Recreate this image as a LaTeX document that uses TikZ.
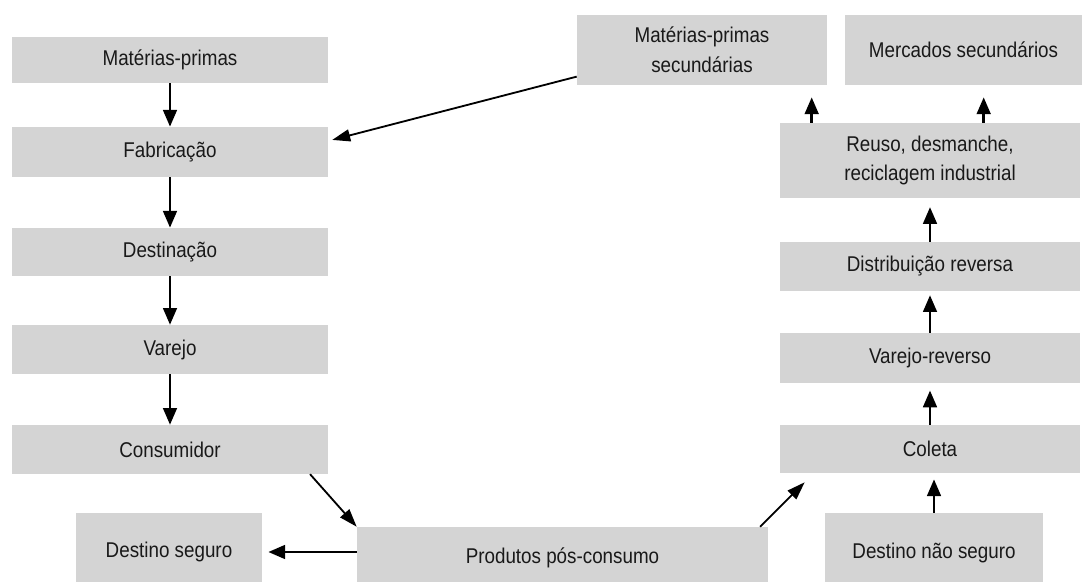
\documentclass[tikz,border=0pt]{standalone}
\usepackage{fontspec}
\setmainfont{Liberation Sans}[FakeStretch=0.88]
\usepackage{xcolor}
\usetikzlibrary{arrows.meta,calc}
\definecolor{boxgray}{RGB}{212, 212, 212}
\definecolor{textdark}{RGB}{25, 25, 25}

\begin{document}
\begin{tikzpicture}[x=0.025cm, y=-0.025cm,
    caixa/.style={fill=boxgray, text=textdark, inner sep=0pt, align=center,
                  font=\fontsize{15.2}{21}\selectfont},
    seta/.style={-{Triangle[length=0.42cm, width=0.34cm]}, line width=2pt, black},
    diag/.style={-{Triangle[length=0.45cm, width=0.3cm]}, line width=1.3pt, black}]
    \path[use as bounding box, clip] (0,0) rectangle (1084,582);

    % Forward chain (left column)
    \node[caixa, minimum width=7.9cm, minimum height=1.15cm] (mp) at (170, 60) {Matérias-primas};
    \node[caixa, minimum width=7.9cm, minimum height=1.25cm] (fab) at (170, 152) {Fabricação};
    \node[caixa, minimum width=7.9cm, minimum height=1.2cm] (dest) at (170, 252) {Destinação};
    \node[caixa, minimum width=7.9cm, minimum height=1.22cm] (var) at (170, 349.5) {Varejo};
    \node[caixa, minimum width=7.9cm, minimum height=1.22cm] (cons) at (170, 449.5) {Consumidor};

    % Bottom row
    \node[caixa, minimum width=4.65cm, minimum height=1.95cm] (ds) at (169, 552) {Destino seguro};
    \node[caixa, minimum width=10.275cm, minimum height=1.55cm] (prod) at (562.5, 558) {Produtos pós-consumo};
    \node[caixa, minimum width=5.45cm, minimum height=2cm] (dns) at (934, 553) {Destino não seguro};

    % Reverse chain (right column)
    \node[caixa, minimum width=7.5cm, minimum height=1.2cm] (col) at (930, 449) {Coleta};
    \node[caixa, minimum width=7.5cm, minimum height=1.25cm] (vr) at (930, 358) {Varejo-reverso};
    \node[caixa, minimum width=7.5cm, minimum height=1.22cm] (dist) at (930, 266.5) {Distribuição reversa};
    \node[caixa, minimum width=7.5cm, minimum height=1.875cm] (reuso) at (930, 160.5) {Reuso, desmanche,\\reciclagem industrial};

    % Top row
    \node[caixa, minimum width=6.25cm, minimum height=1.75cm] (mps) at (702, 50) {Matérias-primas\\secundárias};
    \node[caixa, minimum width=5.925cm, minimum height=1.75cm] (merc) at (963.5, 50) {Mercados secundários};

    % Forward arrows
    \draw[seta] (mp) -- (fab);
    \draw[seta] (fab) -- (dest);
    \draw[seta] (dest) -- (var);
    \draw[seta] (var) -- (cons);
    \draw[diag] (cons.-10) -- (prod.north west);
    \draw[seta, shorten >=0.15cm] (prod.west |- ds.east) -- (ds.east);

    % Reverse arrows
    \coordinate (pc) at ($(col.south west)+(25,9)$);
    \draw[diag] (prod.9) -- (pc);
    \draw[seta, shorten >=0.15cm] (dns.north) -- (dns.north |- col.south);
    \draw[seta, shorten >=0.18cm] (col) -- (vr);
    \draw[seta, shorten >=0.1cm] (vr) -- (dist);
    \draw[seta, shorten >=0.22cm] (dist) -- (reuso);
    \coordinate (r1) at ($(reuso.north west)+(32,0)$);
    \coordinate (r2) at ($(reuso.north west)+(204,0)$);
    \draw[seta, shorten >=0.3cm] (r1) -- (r1 |- mps.south);
    \draw[seta, shorten >=0.3cm] (r2) -- (r2 |- merc.south);
    \draw[diag, shorten >=0.1cm] (mps.192) -- (fab.4);
\end{tikzpicture}
\end{document}
